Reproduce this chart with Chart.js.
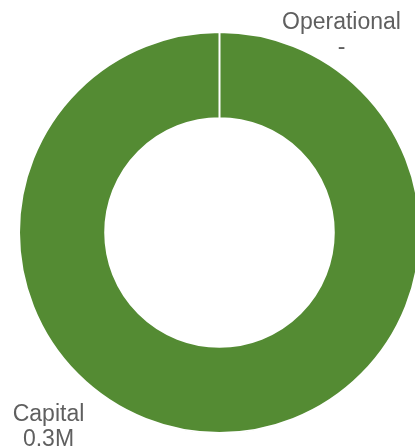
<!DOCTYPE html>
<html>
<head>
<meta charset="utf-8">
<script src="https://cdn.jsdelivr.net/npm/chart.js@4.4.1/dist/chart.umd.min.js"></script>
<style>
  html, body { margin: 0; padding: 0; background: #fff; overflow: hidden; width: 415px; height: 448px; }
  #wrap { position: absolute; left: 0; top: 0; width: 440px; height: 448px; }
</style>
</head>
<body>
<div id="wrap"><canvas id="c" width="440" height="448"></canvas></div>
<script>
// Spend split by category
const categories = ['Operational', 'Capital'];
const amounts = [0, 300000];
const sliceColors = ['#548b33', '#548b33'];

function formatValue(v) {
  if (!v) return '-';
  return (v / 1e6).toFixed(1) + 'M';
}

// Where each slice's label sits: anchor angle on the outer rim (degrees, 0 = top, clockwise)
// plus an offset from that anchor to the first text baseline.
const labelPlacement = [
  { angle: 0,   dx: 122,  dy: -3 },
  { angle: 180, dx: -171, dy: -12 }
];

const outsideLabels = {
  id: 'outsideLabels',
  afterDatasetsDraw(chart) {
    const ctx = chart.ctx;
    const meta = chart.getDatasetMeta(0);
    ctx.save();
    ctx.fillStyle = '#5f5f5f';
    ctx.font = '23px "Liberation Sans", Arial, sans-serif';
    ctx.textAlign = 'center';
    ctx.textBaseline = 'alphabetic';
    meta.data.forEach((arc, i) => {
      const p = labelPlacement[i];
      const a = p.angle * Math.PI / 180;
      const ax = arc.x + arc.outerRadius * Math.sin(a);
      const ay = arc.y - arc.outerRadius * Math.cos(a);
      const x = ax + p.dx;
      const y = ay + p.dy;
      ctx.fillText(categories[i], x, y);
      ctx.fillText(formatValue(amounts[i]), x, y + 25);
    });
    ctx.restore();
  }
};

new Chart(document.getElementById('c'), {
  type: 'doughnut',
  data: {
    labels: categories,
    datasets: [{
      data: amounts,
      backgroundColor: sliceColors,
      borderColor: '#ffffff',
      borderWidth: 2,
      hoverOffset: 0
    }]
  },
  options: {
    responsive: false,
    animation: false,
    events: [],
    cutout: '57%',
    layout: { padding: { left: 18, right: 19, top: 31, bottom: 14 } },
    plugins: {
      legend: { display: false },
      tooltip: { enabled: false }
    }
  },
  plugins: [outsideLabels]
});
</script>
</body>
</html>
